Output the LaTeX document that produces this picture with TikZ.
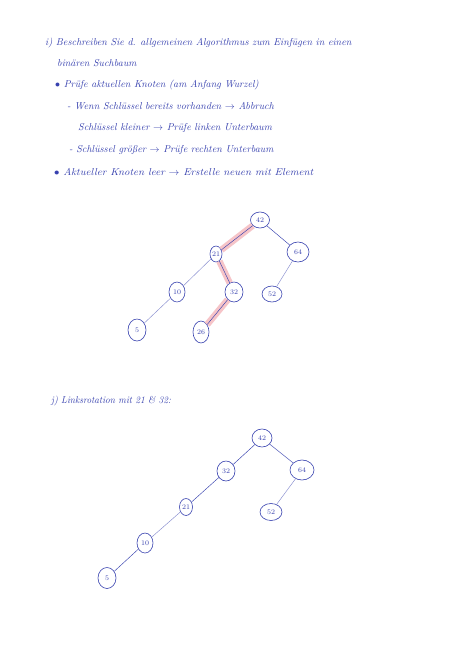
\documentclass[tikz,border=0pt]{standalone}
\usetikzlibrary{shapes.geometric}
\definecolor{ink}{RGB}{55,65,175}
\definecolor{hlpink}{RGB}{246,196,200}
\tikzset{
  txt/.style={anchor=west, inner sep=0pt, text=ink, font=\fontsize{10}{12}\selectfont\itshape},
  knot/.style={ellipse, draw=ink, line width=0.6pt, inner sep=0pt, text=ink, font=\fontsize{7}{8}\selectfont},
  edge/.style={draw=ink, line width=0.45pt},
  faint/.style={draw=ink!60, line width=0.45pt},
  hl/.style={draw=hlpink, line width=6.5pt, line cap=butt}
}
\begin{document}
\begin{tikzpicture}[x=1pt,y=-1pt]
\useasboundingbox[fill=white] (0,0) rectangle (460,650);

% text
\node[txt] (t1) at (45,43) {i) Beschreiben Sie d. allgemeinen Algorithmus zum Einfügen in einen};
\node[txt] (t2) at (57,63) {binären Suchbaum};
\node[txt] (t3) at (55,85) {$\bullet$ Prüfe aktuellen Knoten (am Anfang Wurzel)};
\node[txt] (t4) at (67,106) {- Wenn Schlüssel bereits vorhanden $\to$ Abbruch};
\node[txt] (t5) at (78,128) {Schlüssel kleiner $\to$ Prüfe linken Unterbaum};
\node[txt] (t6) at (69,150) {- Schlüssel größer $\to$ Prüfe rechten Unterbaum};
\node[txt] (t7) at (54,172) {\scalebox{1.08}[1]{$\bullet$ Aktueller Knoten leer $\to$ Erstelle neuen mit Element}};
\node[txt] (t8) at (51,401) {\scalebox{0.93}[1]{j) Linksrotation mit 21 \& 32:}};

% tree 1
\node[knot, minimum width=19pt, minimum height=16pt] (a42) at (260,220) {42};
\node[knot, minimum width=12pt, minimum height=16pt] (a21) at (216,254) {21};
\node[knot, minimum width=22pt, minimum height=20pt] (a64) at (298,252) {64};
\node[knot, minimum width=16pt, minimum height=20pt] (a10) at (177,292) {10};
\node[knot, minimum width=18pt, minimum height=20pt] (a32) at (234,292) {32};
\node[knot, minimum width=20pt, minimum height=16pt] (a52) at (272,294) {52};
\node[knot, minimum width=18pt, minimum height=22pt] (a5) at (137,330) {5};
\node[knot, minimum width=16pt, minimum height=22pt] (a26) at (201,332) {26};

\draw[hl] (a42) -- (a21);
\draw[hl] (a21) -- (a32);
\draw[hl] (a32) -- (a26);
\draw[edge] (a42) -- (a21);
\draw[edge] (a42) -- (a64);
\draw[faint] (a21) -- (a10);
\draw[edge] (a21) -- (a32);
\draw[edge] (a32) -- (a26);
\draw[faint] (a10) -- (a5);
\draw[faint] (a64) -- (a52);

% tree 2
\node[knot, minimum width=20pt, minimum height=18pt] (b42) at (262,438) {42};
\node[knot, minimum width=18pt, minimum height=20pt] (b32) at (226,471) {32};
\node[knot, minimum width=24pt, minimum height=20pt] (b64) at (302,470) {64};
\node[knot, minimum width=13pt, minimum height=17pt] (b21) at (186,507) {21};
\node[knot, minimum width=22pt, minimum height=17pt] (b52) at (271,512) {52};
\node[knot, minimum width=16pt, minimum height=20pt] (b10) at (145,543) {10};
\node[knot, minimum width=18pt, minimum height=21pt] (b5) at (107,578) {5};

\draw[edge] (b42) -- (b32);
\draw[edge] (b42) -- (b64);
\draw[edge] (b32) -- (b21);
\draw[faint] (b21) -- (b10);
\draw[edge] (b10) -- (b5);
\draw[faint] (b64) -- (b52);
\end{tikzpicture}
\end{document}
